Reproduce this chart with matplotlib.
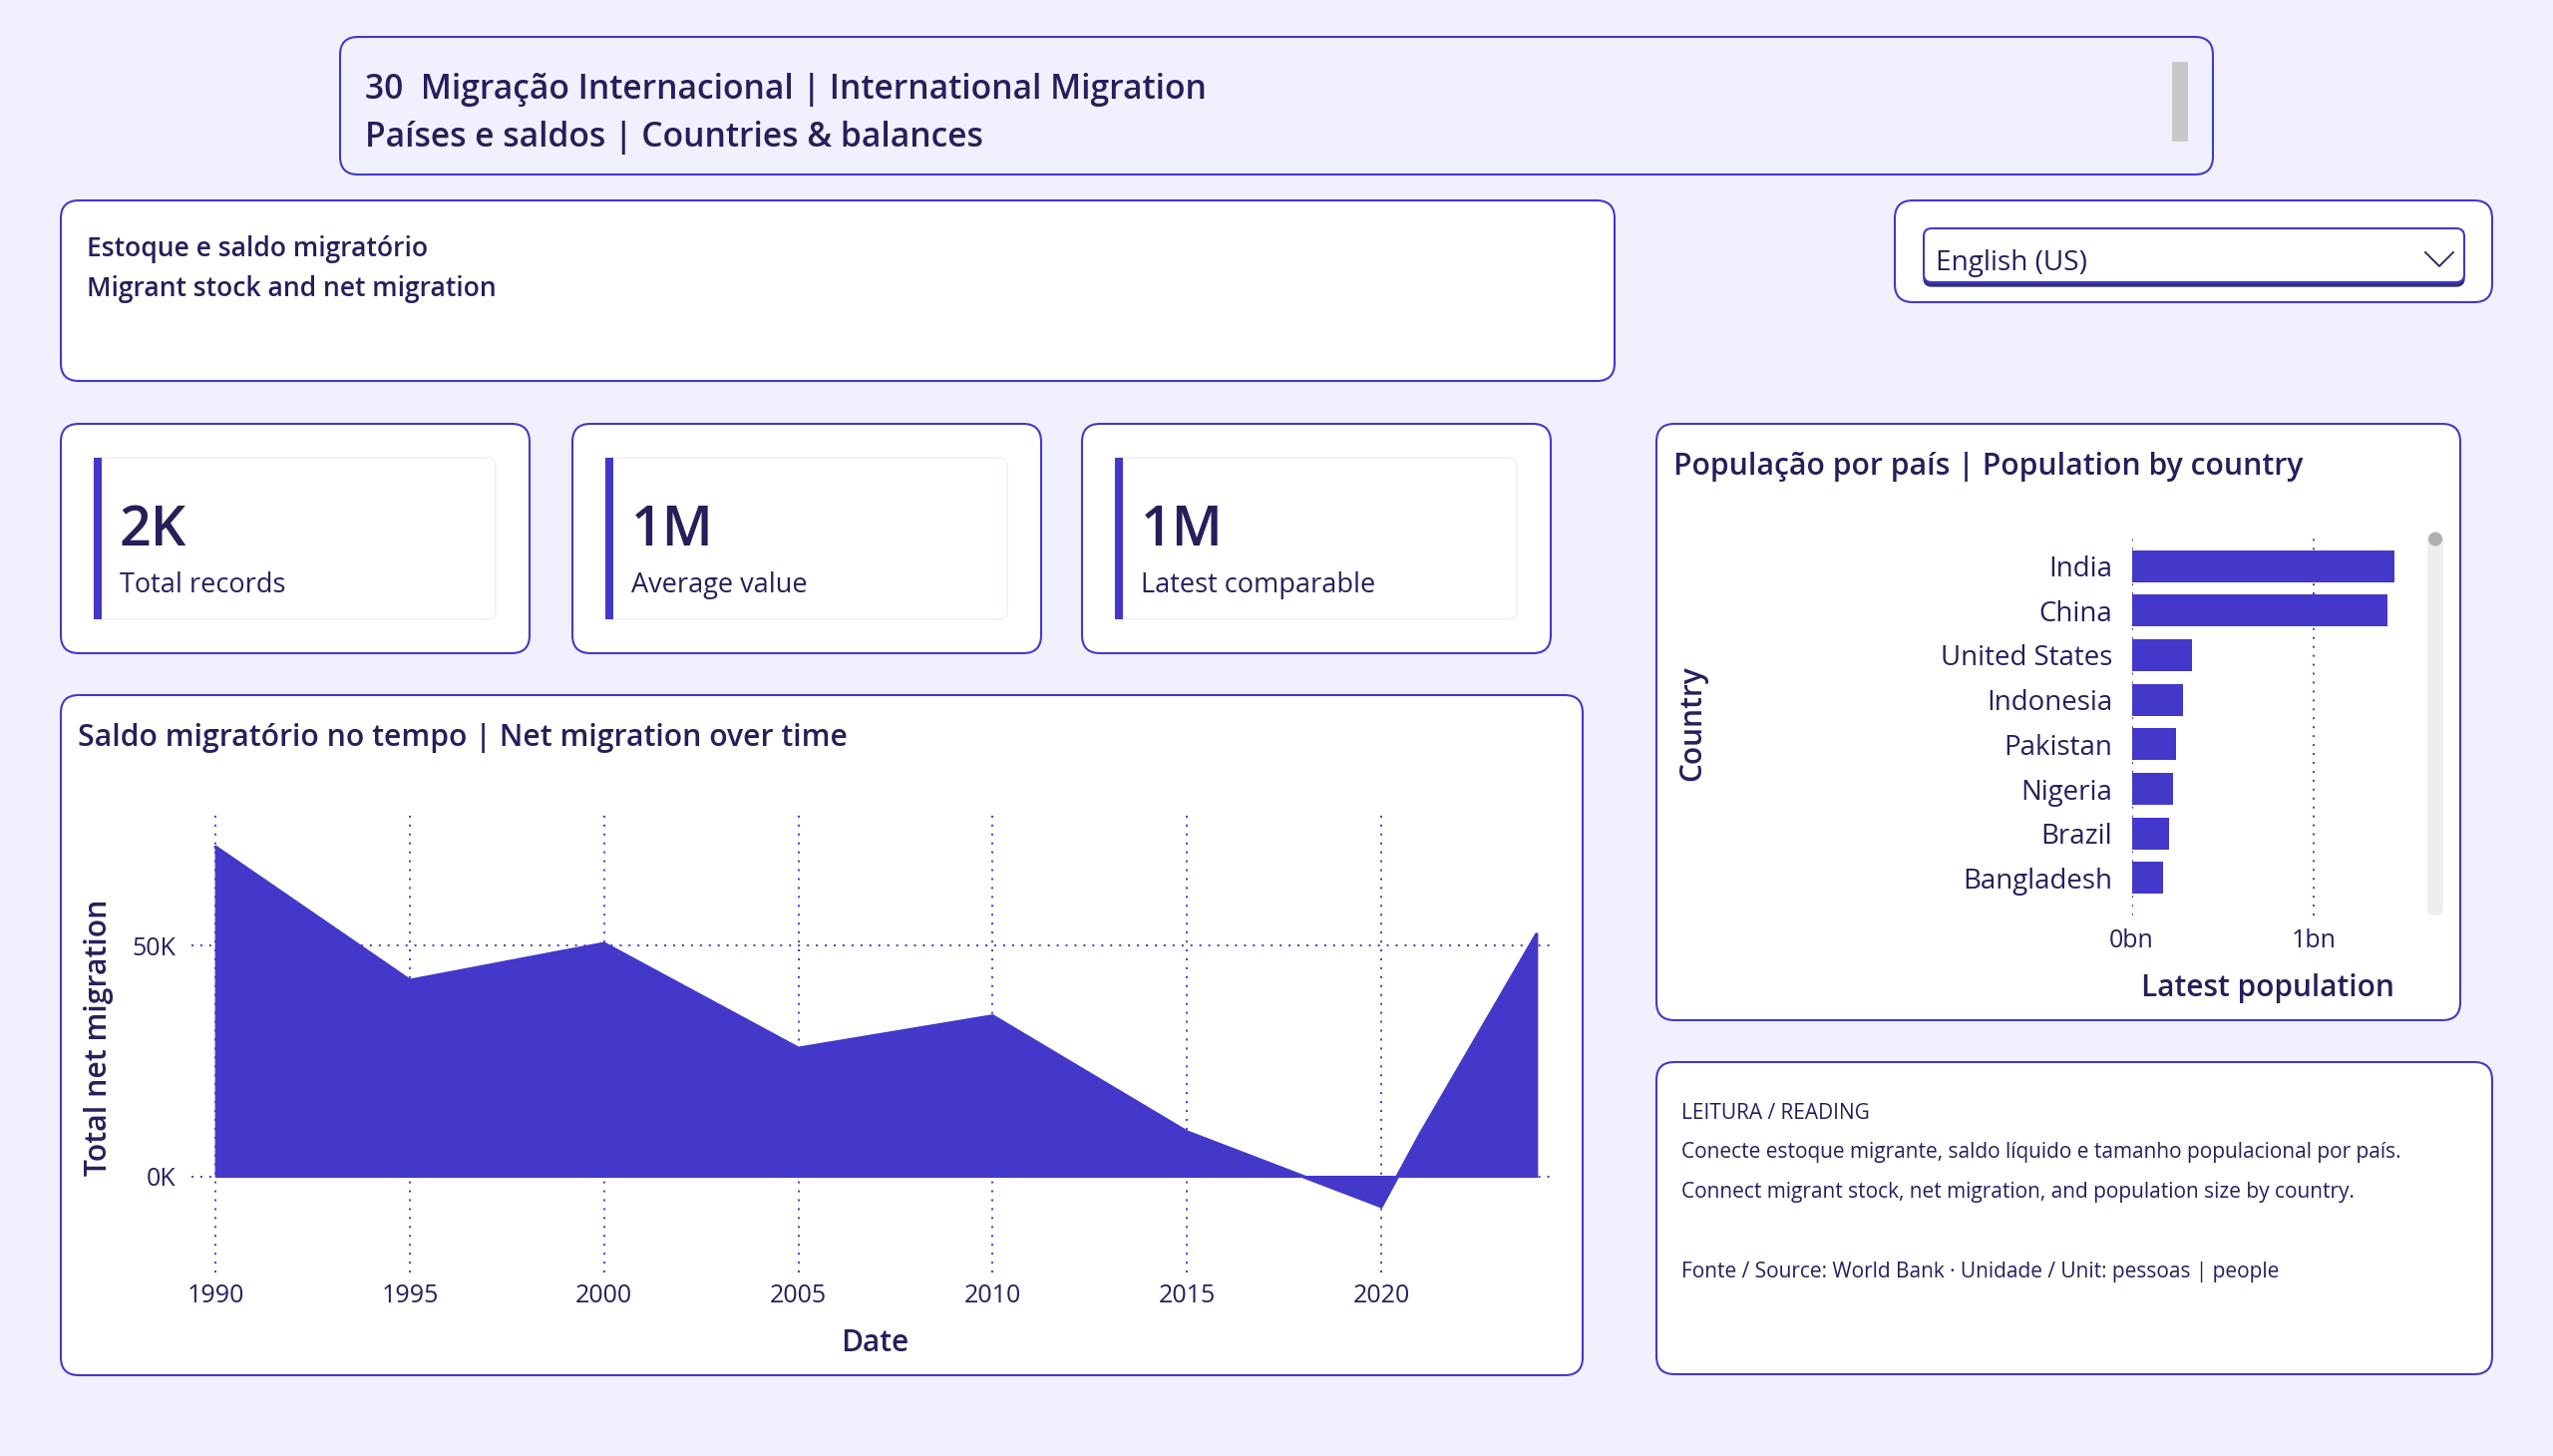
import matplotlib
matplotlib.use("Agg")
import matplotlib.pyplot as plt
from matplotlib.patches import FancyBboxPatch, Rectangle, Circle

W, H = 2560, 1460
BG = "#F1F0FF"
INDIGO = "#4338CA"
INK = "#251F5C"

plt.rcParams["font.family"] = ["Open Sans", "Noto Sans", "DejaVu Sans"]

# data
years = [1990, 1995, 2000, 2005, 2010, 2015, 2020, 2021, 2024]
net_migration = [71300, 42400, 50400, 27700, 34700, 9600, -6500, 9000, 52400]
year_ticks = [1990, 1995, 2000, 2005, 2010, 2015, 2020]
migration_ticks = [0, 50000]
migration_labels = ["0K", "50K"]

countries = ["India", "China", "United States", "Indonesia", "Pakistan", "Nigeria", "Brazil", "Bangladesh"]
population = [1.44e9, 1.40e9, 0.333e9, 0.279e9, 0.246e9, 0.228e9, 0.207e9, 0.171e9]
population_ticks = [0, 1e9]
population_labels = ["0bn", "1bn"]

kpi_values = ["2K", "1M", "1M"]
kpi_labels = ["Total records", "Average value", "Latest comparable"]

fig = plt.figure(figsize=(W / 100, H / 100), dpi=100, facecolor=BG)

# page layer in pixel coordinates
page = fig.add_axes([0, 0, 1, 1])
page.set_xlim(0, W)
page.set_ylim(H, 0)
page.axis("off")


def panel(x0, y0, x1, y1, face="white", edge=INDIGO, lw=1.5, r=18, z=1):
    page.add_patch(FancyBboxPatch((x0, y0), x1 - x0, y1 - y0,
                                  boxstyle=f"round,pad=0,rounding_size={r}",
                                  fc=face, ec=edge, lw=lw, zorder=z))


def label(x, y, s, size, weight="normal", **kw):
    kw.setdefault("ha", "left")
    kw.setdefault("va", "center")
    page.text(x, y, s, fontsize=size, fontweight=weight, color=INK, zorder=6, **kw)


def pixel_axes(x0, y0, x1, y1):
    ax = fig.add_axes([x0 / W, 1 - y1 / H, (x1 - x0) / W, (y1 - y0) / H])
    ax.patch.set_alpha(0)
    for s in ax.spines.values():
        s.set_visible(False)
    return ax


# header
panel(341, 37, 2219, 175, face=BG)
label(366, 90, "30  Migração Internacional | International Migration", 24.2, "semibold")
label(366, 138, "Países e saldos | Countries & balances", 24.2, "semibold")
page.add_patch(Rectangle((2178, 62), 16, 80, fc="#C8C8C8", ec="none", zorder=3))

# description
panel(61, 201, 1619, 382)
label(87, 250, "Estoque e saldo migratório", 19.1, "semibold")
label(87, 290, "Migrant stock and net migration", 19.1, "semibold")

# language dropdown
panel(1900, 201, 2499, 303)
panel(1929, 232, 2471, 287, face="#312E81", edge="#312E81", lw=1, r=8, z=2)
panel(1929, 229, 2471, 283, lw=1.5, r=8, z=3)
label(1941, 264, "English (US)", 20.2)
page.plot([2432, 2446, 2460], [253, 267, 253], color=INK, lw=1.3, zorder=4)

# KPI cards
for left, val, lab in zip([61, 574, 1085], kpi_values, kpi_labels):
    panel(left, 425, left + 470, 655)
    panel(left + 33, 459, left + 436, 621, edge=BG, lw=1.2, r=8, z=2)
    page.add_patch(Rectangle((left + 33, 459), 8, 162, fc=INDIGO, ec="none", zorder=3))
    label(left + 59, 533, val, 40, "semibold")
    label(left + 59, 587, lab, 19.5)

# net migration area
panel(61, 697, 1587, 1379)
label(78, 740, "Saldo migratório no tempo | Net migration over time", 21.7, "semibold")

ax = pixel_axes(192, 813, 1556, 1276)
ax.fill_between(years, net_migration, 0, color=INDIGO, lw=1.5, zorder=3)
ax.plot(years, net_migration, color=INDIGO, lw=2.5, solid_capstyle="round", zorder=3)
ax.set_xlim(1989.38, 2024.39)
ax.set_ylim(-20840, 79160)
ax.set_xticks(year_ticks, labels=[str(y) for y in year_ticks])
ax.set_yticks(migration_ticks, labels=migration_labels)
ax.grid(True, color=INDIGO, ls=(0, (1, 3.6)), lw=1.4, zorder=1)
ax.set_axisbelow(True)
ax.tick_params(length=0, labelsize=18, labelcolor=INK)
ax.tick_params(axis="x", pad=8)
ax.tick_params(axis="y", pad=11.5)
label(877, 1347, "Date", 21.5, "semibold", ha="center")
label(99, 1040, "Total net migration", 21.7, "semibold", ha="center", rotation=90)

# population bars
panel(1661, 425, 2467, 1023)
label(1678, 468, "População por país | Population by country", 21.7, "semibold")

bx = pixel_axes(2137.5, 536.5, 2410, 918)
bx.barh(range(len(countries)), population, height=0.715, color=INDIGO, zorder=3)
bx.set_xlim(0, 1.49e9)
bx.set_ylim(7.84, -0.696)
bx.set_yticks(range(len(countries)), labels=countries)
bx.set_xticks(population_ticks, labels=population_labels)
bx.grid(True, axis="x", color=INDIGO, ls=(0, (1, 3.6)), lw=1.4, zorder=1)
bx.set_axisbelow(True)
bx.tick_params(length=0, labelcolor=INK)
bx.tick_params(axis="y", labelsize=19.9, pad=14)
bx.tick_params(axis="x", labelsize=18, pad=9)
label(2273.7, 991, "Latest population", 21.5, "semibold", ha="center")
label(1697, 725, "Country", 21.5, "semibold", ha="center", rotation=90)

# scrollbar next to the bars
page.add_patch(FancyBboxPatch((2434, 535), 16, 383, boxstyle="round,pad=0,rounding_size=7",
                              fc="#EEEEEE", ec="none", zorder=3))
page.add_patch(Circle((2442, 540.5), 7, fc="#B0B0B0", ec="none", zorder=4))

# reading note
panel(1661, 1065, 2499, 1378)
label(1686, 1116, "LEITURA / READING", 15)
label(1686, 1156, "Conecte estoque migrante, saldo líquido e tamanho populacional por país.", 15)
label(1686, 1196, "Connect migrant stock, net migration, and population size by country.", 15)
label(1686, 1276, "Fonte / Source: World Bank · Unidade / Unit: pessoas | people", 15)

fig.savefig("out.png", dpi=100, facecolor=BG)
